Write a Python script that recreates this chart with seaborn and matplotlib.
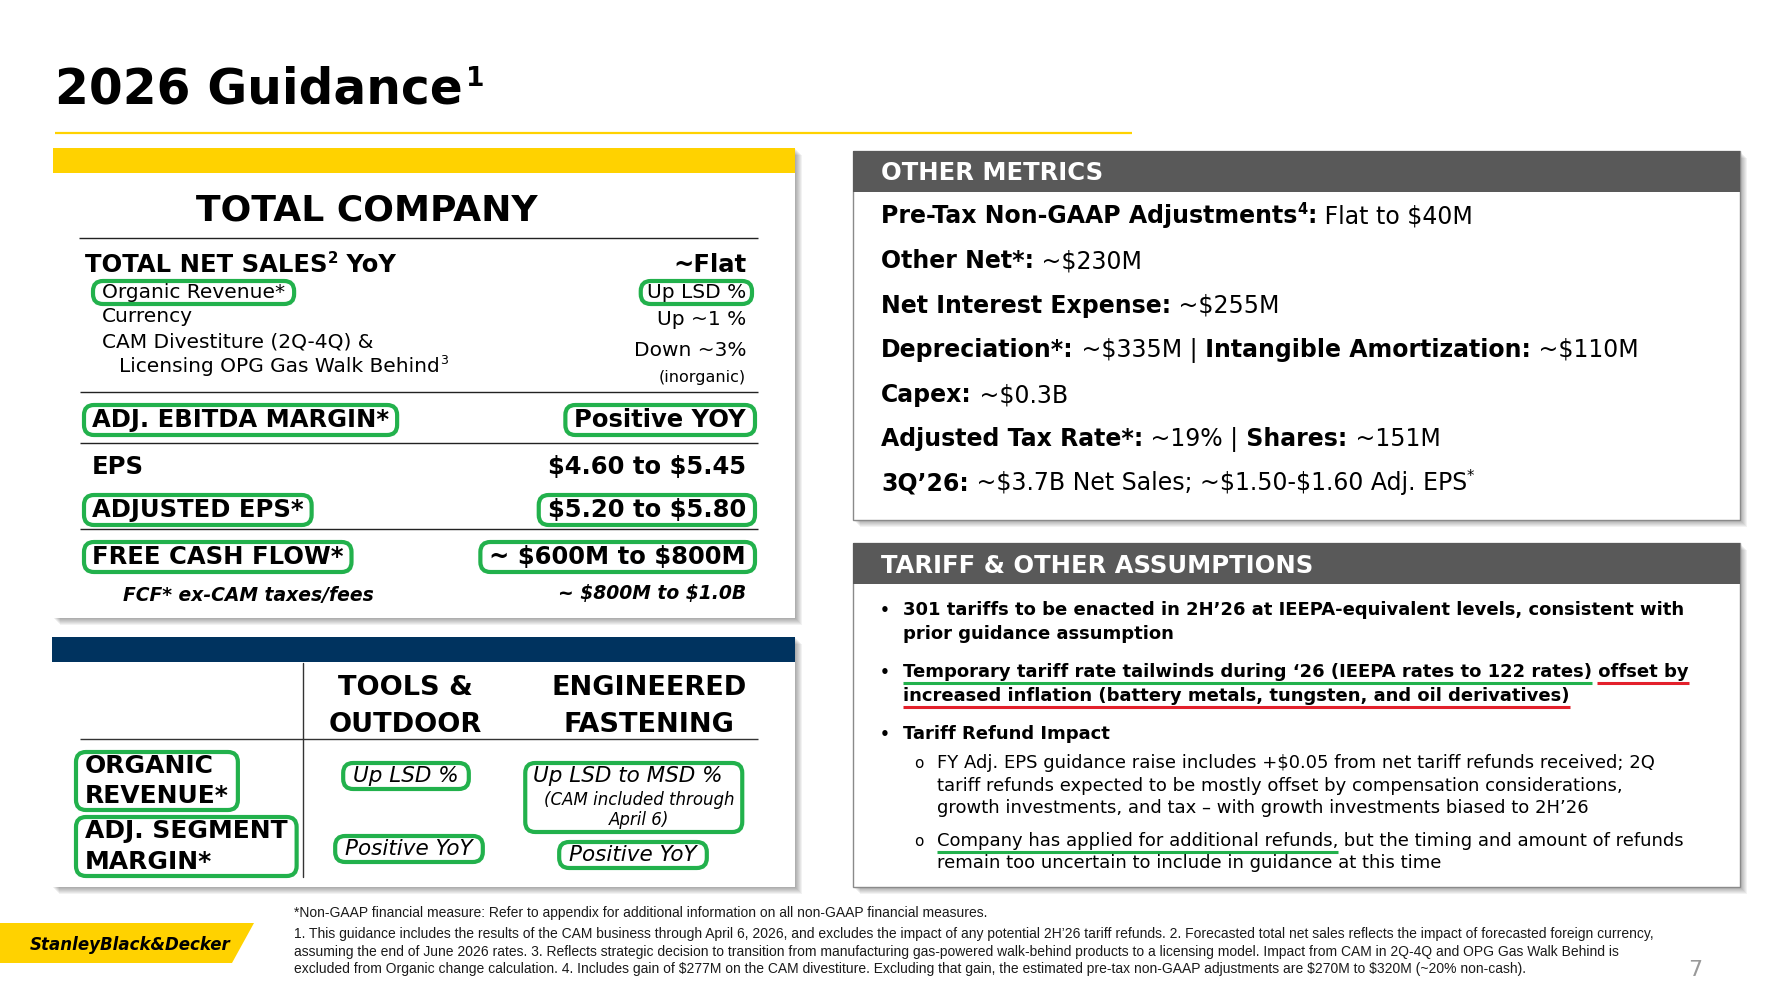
import matplotlib
matplotlib.use("Agg")
import matplotlib.pyplot as plt
from matplotlib.patches import Rectangle, FancyBboxPatch, Polygon
import seaborn as sns

# ---- slide content ----
title_text = "2026 Guidance"
title_note = "1"

tc_title = "TOTAL COMPANY"
sales_label = "TOTAL NET SALES"
sales_value = "~Flat"
sales_rows = ["Organic Revenue*", "Currency", "CAM Divestiture (2Q-4Q) &", "Licensing OPG Gas Walk Behind"]
sales_vals = ["Up LSD %", "Up ~1 %", "Down ~3%", "(inorganic)"]

kpi_labels = ["ADJ. EBITDA MARGIN*", "EPS", "ADJUSTED EPS*", "FREE CASH FLOW*"]
kpi_values = ["Positive YOY", "$4.60 to $5.45", "$5.20 to $5.80", "~ $600M to $800M"]
kpi_circled = [True, False, True, True]
fcf_note = ["FCF* ex-CAM taxes/fees", "~ $800M to $1.0B"]

seg_cols = [["TOOLS &", "OUTDOOR"], ["ENGINEERED", "FASTENING"]]
seg_rows = [["ORGANIC", "REVENUE*"], ["ADJ. SEGMENT", "MARGIN*"]]
seg_organic = ["Up LSD %", "Up LSD to MSD %"]
seg_margin = ["Positive YoY", "Positive YoY"]
ef_note = ["(CAM included through", "April 6)"]

metrics_header = "OTHER METRICS"
metric_lines = [
    [("Pre-Tax Non-GAAP Adjustments", "b"), ("4", "b^"), (":", "b"), (" Flat to $40M", "r")],
    [("Other Net*:", "b"), (" ~$230M", "r")],
    [("Net Interest Expense:", "b"), (" ~$255M", "r")],
    [("Depreciation*:", "b"), (" ~$335M |", "r"), (" Intangible Amortization:", "b"), (" ~$110M", "r")],
    [("Capex:", "b"), (" ~$0.3B", "r")],
    [("Adjusted Tax Rate*:", "b"), (" ~19% |", "r"), (" Shares:", "b"), (" ~151M", "r")],
    [("3Q\u201926:", "b"), (" ~$3.7B Net Sales; ~$1.50-$1.60 Adj. EPS", "r"), ("*", "r^")],
]

tariff_header = "TARIFF & OTHER ASSUMPTIONS"
# (level, [(text, kind, underline)])
tariff_lines = [
    (1, [("301 tariffs to be enacted in 2H\u201926 at IEEPA-equivalent levels, consistent with", "b", None)]),
    (0, [("prior guidance assumption", "b", None)]),
    (1, [("Temporary tariff rate tailwinds during \u201826 (IEEPA rates to 122 rates)", "b", "g"),
         (" offset by", "b", "r")]),
    (0, [("increased inflation (battery metals, tungsten, and oil derivatives)", "b", "r")]),
    (1, [("Tariff Refund Impact", "b", None)]),
    (2, [("FY Adj. EPS guidance raise includes +$0.05 from net tariff refunds received; 2Q", "r", None)]),
    (0, [("tariff refunds expected to be mostly offset by compensation considerations,", "r", None)]),
    (0, [("growth investments, and tax \u2013 with growth investments biased to 2H\u201926", "r", None)]),
    (2, [("Company has applied for additional refunds,", "r", "g"),
         (" but the timing and amount of refunds", "r", None)]),
    (0, [("remain too uncertain to include in guidance at this time", "r", None)]),
]

footnotes = [
    "*Non-GAAP financial measure: Refer to appendix for additional information on all non-GAAP financial measures.",
    "1. This guidance includes the results of the CAM business through April 6, 2026, and excludes the impact of any potential 2H\u201926 tariff refunds. 2. Forecasted total net sales reflects the impact of forecasted foreign currency,",
    "assuming the end of June 2026 rates. 3. Reflects strategic decision to transition from manufacturing gas-powered walk-behind products to a licensing model. Impact from CAM in 2Q-4Q and OPG Gas Walk Behind is",
    "excluded from Organic change calculation. 4. Includes gain of $277M on the CAM divestiture. Excluding that gain, the estimated pre-tax non-GAAP adjustments are $270M to $320M (~20% non-cash).",
]
logo_text = "StanleyBlack&Decker"
page_no = "7"

YELLOW = "#FFD200"
NAVY = "#00335F"
GREY = "#595959"
GREEN = "#22B14C"
RED = "#E3202B"

sns.set_theme(style="white")
plt.rcParams["font.family"] = ["DejaVu Sans"]

W, H = 1784, 1002
PX = 100 / 72
fig = plt.figure(figsize=(W / 100, H / 100), dpi=100)
ax = fig.add_axes([0, 0, 1, 1])
ax.set_xlim(0, W)
ax.set_ylim(H, 0)
ax.axis("off")
rend = fig.canvas.get_renderer()


def ext(t):
    bb = t.get_window_extent(renderer=rend)
    return bb.x0, H - bb.y1, bb.x1, H - bb.y0


def txt(x, y, s, size, kind="r", ha="left", color="black", family=None):
    weight = "bold" if "b" in kind else ("light" if "l" in kind else "normal")
    style = "italic" if "i" in kind else "normal"
    kw = {"family": family} if family else {}
    t = ax.text(x, y, s, fontsize=size, fontweight=weight, fontstyle=style, color=color,
                ha=ha, va="baseline", parse_math=False, zorder=5, **kw)
    return ext(t)


def seq(x, y, parts, size, color="black"):
    boxes = []
    for s, kind in parts:
        if "^" in kind:
            b = txt(x, y - size * PX * 0.38, s, size * 0.62, kind, color=color)
        else:
            b = txt(x, y, s, size, kind, color=color)
        boxes.append(b)
        x = b[2]
    return boxes


def gbox(boxes, px=7, py=4):
    x0 = min(b[0] for b in boxes) - px
    y0 = min(b[1] for b in boxes) - py
    x1 = max(b[2] for b in boxes) + px
    y1 = max(b[3] for b in boxes) + py
    ax.add_patch(FancyBboxPatch((x0, y0), x1 - x0, y1 - y0,
                                boxstyle="round,pad=0,rounding_size=10",
                                fill=False, ec=GREEN, lw=3.0, zorder=6))


def card(x, y, w, h, border="none"):
    for i in range(1, 8):
        ax.add_patch(Rectangle((x + i, y + i), w, h, color="black", alpha=0.05, lw=0, zorder=1))
    ax.add_patch(Rectangle((x, y), w, h, facecolor="white", edgecolor=border, lw=1, zorder=2))


def hline(x0, x1, y, color="#222222", lw=1.0):
    ax.plot([x0, x1], [y, y], color=color, lw=lw, zorder=4, solid_capstyle="butt")


# ---- title ----
b = txt(55, 103, title_text, 35, "b")
txt(b[2] + 3, 86, title_note, 19, "b")
hline(55, 1132, 133, color=YELLOW, lw=1.6)

# ---- total company card ----
card(53, 148, 742, 470)
ax.add_patch(Rectangle((53, 148), 742, 25, color=YELLOW, lw=0, zorder=3))
txt(367, 220, tc_title, 26, "b", ha="center")
hline(79, 758, 238)
seq(85, 272, [(sales_label, "b"), ("2", "b^"), (" YoY", "b")], 17.5)
txt(746, 272, sales_value, 17.5, "b", ha="right")

row_x = [102, 102, 102, 119]
row_y = [298, 322, 347, 372]
val_y = [298, 325, 356, 382]
for i, (lab, val) in enumerate(zip(sales_rows, sales_vals)):
    parts = [(lab, "r")] + ([("3", "r^")] if i == 3 else [])
    lb = seq(row_x[i], row_y[i], parts, 14.5)
    vb = txt(746, val_y[i], val, 11.5 if i == 3 else 14.5, "r", ha="right")
    if i == 0:
        gbox(lb, 9, 2)
        gbox([vb], 6, 2)
hline(80, 758, 392)

kpi_y = [427, 474, 517, 564]
for lab, val, circ, y in zip(kpi_labels, kpi_values, kpi_circled, kpi_y):
    lb = txt(92, y, lab, 17.5, "b")
    vb = txt(746, y, val, 17.5, "b", ha="right")
    if circ:
        gbox([lb], 8, 3)
        gbox([vb], 9, 3)
hline(80, 758, 443)
hline(80, 758, 529)
txt(123, 601, fcf_note[0], 13.5, "bi")
txt(746, 599, fcf_note[1], 13.5, "bi", ha="right")

# ---- segment card ----
card(52, 637, 743, 250)
ax.add_patch(Rectangle((52, 637), 743, 25, color=NAVY, lw=0, zorder=3))
ax.plot([303, 303], [663, 877], color="#333333", lw=1.0, zorder=4)
hline(80, 758, 739, color="#333333")
col_x = [405, 649]
for cx, lines in zip(col_x, seg_cols):
    txt(cx, 695, lines[0], 19.5, "b", ha="center")
    txt(cx, 732, lines[1], 19.5, "b", ha="center")
row_base = [(773, 803), (838, 869)]
for lines, ys in zip(seg_rows, row_base):
    bxs = [txt(85, y, s, 18, "b") for s, y in zip(lines, ys)]
    gbox(bxs, 9, 2)

gbox([txt(406, 782, seg_organic[0], 15.5, "i", ha="center")], 10, 3)
eb = [txt(628, 782, seg_organic[1], 15.5, "i", ha="center"),
      txt(639, 805, ef_note[0], 12, "i", ha="center"),
      txt(639, 825, ef_note[1], 12, "i", ha="center")]
gbox(eb, 8, 3)
gbox([txt(409, 855, seg_margin[0], 15.5, "i", ha="center")], 10, 3)
gbox([txt(633, 861, seg_margin[1], 15.5, "i", ha="center")], 10, 3)

# ---- other metrics card ----
card(853, 151, 887, 369, border="#8a8a8a")
ax.add_patch(Rectangle((853, 151), 887, 41, color=GREY, lw=0, zorder=3))
txt(881, 180, metrics_header, 17.5, "b", color="white")
metric_y = [223, 268, 313, 357, 402, 446, 490]
for parts, y in zip(metric_lines, metric_y):
    seq(881, y, parts, 17)

# ---- tariff card ----
card(853, 543, 887, 344, border="#8a8a8a")
ax.add_patch(Rectangle((853, 543), 887, 41, color=GREY, lw=0, zorder=3))
txt(881, 573, tariff_header, 17.5, "b", color="white")
tariff_y = [615, 639, 677, 701, 739, 768, 791, 813, 846, 868]
indent = 903
for (level, parts), y in zip(tariff_lines, tariff_y):
    if level == 1:
        indent = 903
        txt(880, y, "\u2022", 11, "b")
    elif level == 2:
        indent = 937
        txt(914, y, "o", 11, "r")
    x = indent
    for s, kind, ul in parts:
        bb = txt(x, y, s, 13, kind)
        if ul:
            ux0 = bb[0] + (5 if s.startswith(" ") else 0)
            hline(ux0, bb[2], y + 6, color=GREEN if ul == "g" else RED, lw=2.2)
        x = bb[2]

# ---- footer ----
foot_y = [917, 938, 956, 973]
for s, y in zip(footnotes, foot_y):
    txt(294, y, s, 10, "r", color="#1a1a1a", family=["Liberation Sans", "DejaVu Sans"])
ax.add_patch(Polygon([(0, 923), (254, 923), (232, 963), (0, 963)], closed=True,
                     color=YELLOW, lw=0, zorder=3))
txt(30, 950, logo_text, 12, "bi")
txt(1695, 976, page_no, 16, "r", ha="center", color="#999999")

fig.savefig("out.png", dpi=100)
